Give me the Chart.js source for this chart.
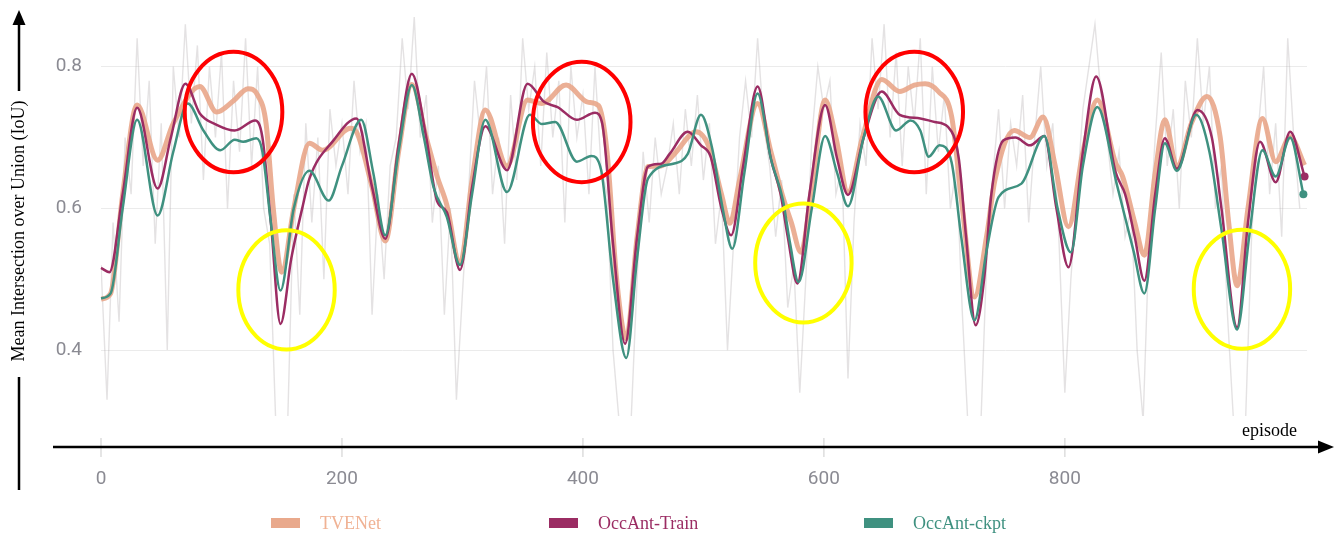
<!DOCTYPE html>
<html>
<head>
<meta charset="utf-8">
<title>Mean IoU per episode</title>
<script src="https://cdn.jsdelivr.net/npm/chart.js@4.4.0/dist/chart.umd.min.js"></script>
<style>
  html, body { margin: 0; padding: 0; background: #fff; }
  #wrap { position: relative; width: 1343px; height: 536px; }
</style>
</head>
<body>
<div id="wrap"><canvas id="chart"></canvas></div>
<script>
// axis ticks
var xTicks = [0, 200, 400, 600, 800];
var yTicks = [0.4, 0.6, 0.8];

// smoothed curves (episode -> IoU)
var tveEp = [0,8,18,30,47,60,82,96,110,122,130,137,143,150,160,173,184,207,212,225,
  236,247,258,270,279,287,298,308,319,337,354,366,386,404,413,420,428,436,445,454,
  465,476,494,505,515,522,530,545,556,566,573,581,590,601,610,620,632,648,663,675,
  684,695,706,715,725,735,742,758,771,782,792,803,815,827,842,848,858,866,875,883,
  893,905,918,929,936,943,952,964,975,987,999];
var tveIoU = [0.472,0.48,0.62,0.746,0.668,0.72,0.772,0.736,0.752,0.769,0.76,0.72,0.6,0.51,0.6,0.692,0.682,0.713,0.708,0.63,
  0.554,0.68,0.775,0.7,0.645,0.605,0.522,0.64,0.739,0.66,0.753,0.748,0.774,0.75,0.745,0.68,0.5,0.416,0.56,0.659,
  0.66,0.677,0.708,0.685,0.62,0.579,0.64,0.748,0.68,0.616,0.58,0.538,0.63,0.753,0.7,0.623,0.7,0.782,0.765,0.774,
  0.776,0.765,0.73,0.6,0.475,0.56,0.64,0.71,0.70,0.729,0.66,0.574,0.68,0.753,0.665,0.645,0.58,0.534,0.65,0.725,
  0.659,0.72,0.758,0.7,0.58,0.491,0.6,0.727,0.666,0.701,0.661];

var trainEp = [0,7,18,30,47,58,70,82,96,111,128,134,141,149,158,167,173,193,212,225,
  236,247,258,270,279,287,298,308,319,337,354,368,379,395,410,416,425,435,445,454,
  465,472,487,498,506,515,523,533,545,556,564,570,578,588,601,611,620,633,648,663,
  680,692,703,712,718,726,733,739,749,759,771,783,793,803,815,826,842,850,858,866,
  875,883,893,910,922,930,943,952,962,975,987,999];
var trainIoU = [0.516,0.51,0.62,0.742,0.628,0.7,0.776,0.734,0.718,0.71,0.724,0.7,0.58,0.437,0.53,0.6,0.642,0.696,0.727,0.63,
  0.557,0.69,0.79,0.7,0.61,0.595,0.513,0.63,0.716,0.654,0.776,0.75,0.743,0.725,0.735,0.72,0.55,0.409,0.56,0.659,
  0.663,0.677,0.708,0.689,0.673,0.6,0.562,0.66,0.772,0.67,0.621,0.56,0.494,0.62,0.746,0.67,0.619,0.7,0.765,0.732,
  0.727,0.722,0.715,0.67,0.56,0.435,0.5,0.62,0.696,0.70,0.689,0.702,0.6,0.517,0.68,0.786,0.652,0.62,0.56,0.498,
  0.62,0.699,0.656,0.739,0.7,0.6,0.432,0.58,0.694,0.637,0.708,0.645];

var ckptEp = [0,8,18,30,47,60,72,85,99,111,118,129,134,141,149,160,173,189,200,216,
  226,236,247,258,268,276,287,298,308,319,337,356,366,377,395,407,415,425,436,445,
  454,475,487,498,507,516,524,534,545,556,566,572,579,590,601,611,620,633,645,660,
  672,680,687,696,706,714,725,735,745,764,783,794,805,815,827,843,857,866,875,883,
  893,909,920,930,943,953,964,975,987,998];
var ckptIoU = [0.473,0.48,0.6,0.725,0.59,0.68,0.748,0.71,0.682,0.697,0.694,0.699,0.68,0.58,0.484,0.6,0.653,0.611,0.66,0.725,
  0.65,0.562,0.68,0.774,0.7,0.63,0.588,0.52,0.62,0.725,0.623,0.732,0.719,0.722,0.666,0.674,0.655,0.5,0.389,0.53,
  0.642,0.663,0.677,0.732,0.687,0.6,0.543,0.65,0.762,0.67,0.612,0.55,0.496,0.6,0.702,0.65,0.603,0.7,0.758,0.71,
  0.724,0.71,0.673,0.689,0.665,0.56,0.442,0.54,0.616,0.635,0.702,0.6,0.538,0.66,0.743,0.635,0.54,0.48,0.6,0.692,
  0.653,0.732,0.68,0.57,0.429,0.56,0.682,0.645,0.70,0.62];

// faint raw readings behind the curves, one every 5 episodes
var rawStep = 5;
var rawIoU = [0.52,0.33,0.58,0.44,0.70,0.62,0.84,0.66,0.78,0.55,
  0.72,0.40,0.80,0.70,0.86,0.72,0.83,0.64,0.80,0.70,
  0.82,0.60,0.78,0.68,0.84,0.66,0.80,0.60,0.55,0.30,
  0.28,0.30,0.62,0.45,0.72,0.58,0.70,0.50,0.74,0.66,
  0.72,0.62,0.78,0.68,0.72,0.45,0.62,0.50,0.66,0.70,
  0.84,0.74,0.87,0.70,0.76,0.58,0.66,0.45,0.60,0.33,
  0.48,0.62,0.78,0.70,0.80,0.62,0.70,0.55,0.76,0.64,
  0.84,0.74,0.80,0.66,0.82,0.70,0.78,0.58,0.80,0.70,
  0.76,0.62,0.80,0.66,0.62,0.40,0.30,0.28,0.30,0.50,
  0.68,0.58,0.70,0.62,0.66,0.72,0.62,0.74,0.66,0.76,
  0.64,0.72,0.55,0.62,0.40,0.55,0.70,0.78,0.70,0.84,
  0.72,0.66,0.56,0.64,0.46,0.52,0.34,0.50,0.70,0.80,
  0.74,0.78,0.62,0.66,0.36,0.58,0.72,0.66,0.84,0.74,
  0.86,0.70,0.82,0.66,0.80,0.72,0.84,0.62,0.80,0.68,
  0.76,0.60,0.66,0.45,0.28,0.30,0.28,0.52,0.64,0.74,
  0.60,0.72,0.66,0.76,0.58,0.70,0.80,0.66,0.72,0.56,
  0.34,0.50,0.62,0.74,0.80,0.86,0.76,0.70,0.62,0.68,
  0.56,0.60,0.40,0.30,0.56,0.70,0.82,0.66,0.74,0.60,
  0.78,0.70,0.84,0.72,0.80,0.60,0.66,0.45,0.30,0.28,
  0.30,0.56,0.70,0.80,0.62,0.72,0.56,0.84,0.70,0.60];

var names = ["TVENet", "OccAnt-Train", "OccAnt-ckpt"];
var colors = ["#e9a98c", "#9b2c63", "#3f9180"];
var textColors = ["#f0b294", "#9b2c63", "#3f9180"];

// highlighted regions: [episode, IoU, half-width (episodes), half-height (IoU), colour]
var marks = [
  [110, 0.736, 40.5, 0.085, "#ff0000"],
  [399, 0.722, 40.5, 0.085, "#ff0000"],
  [675, 0.736, 40.5, 0.085, "#ff0000"],
  [154, 0.485, 40, 0.084, "#ffff00"],
  [583, 0.523, 40, 0.084, "#ffff00"],
  [947, 0.486, 40, 0.084, "#ffff00"]
];

function pts(ep, val) {
  return ep.map(function(e, i) { return { x: e, y: val[i] }; });
}
function endDot(c) {
  return c.dataIndex === c.dataset.data.length - 1 ? 4 : 0;
}
function noPad(s) {
  s.paddingTop = 0; s.paddingBottom = 0; s.paddingLeft = 0; s.paddingRight = 0;
}

var serif = "'Liberation Serif', 'Times New Roman', serif";

var decor = {
  id: "decor",
  afterDraw: function(chart) {
    var ctx = chart.ctx, xs = chart.scales.x, ys = chart.scales.y;
    ctx.save();

    // short tick marks under the plot
    ctx.strokeStyle = "#dddddd";
    ctx.lineWidth = 1.5;
    xTicks.forEach(function(v) {
      var px = xs.getPixelForValue(v);
      ctx.beginPath(); ctx.moveTo(px, 438); ctx.lineTo(px, 457); ctx.stroke();
    });

    // axis arrows
    ctx.strokeStyle = "#000"; ctx.fillStyle = "#000"; ctx.lineWidth = 2.5;
    ctx.beginPath(); ctx.moveTo(53, 447); ctx.lineTo(1321, 447); ctx.stroke();
    ctx.beginPath(); ctx.moveTo(1334, 447); ctx.lineTo(1318, 440.5); ctx.lineTo(1318, 453.5); ctx.closePath(); ctx.fill();
    ctx.beginPath(); ctx.moveTo(19, 490); ctx.lineTo(19, 377); ctx.stroke();
    ctx.beginPath(); ctx.moveTo(19, 91); ctx.lineTo(19, 22); ctx.stroke();
    ctx.beginPath(); ctx.moveTo(19, 10); ctx.lineTo(12.5, 25); ctx.lineTo(25.5, 25); ctx.closePath(); ctx.fill();

    ctx.font = "18px " + serif;
    ctx.textBaseline = "middle";
    ctx.save();
    ctx.translate(19, 231);
    ctx.rotate(-Math.PI / 2);
    ctx.textAlign = "center";
    ctx.fillText("Mean Intersection over Union (IoU)", 0, 0);
    ctx.restore();
    ctx.textAlign = "left";
    ctx.fillText("episode", 1242, 431);

    // legend
    var boxX = [271, 549, 864];
    names.forEach(function(n, i) {
      ctx.fillStyle = colors[i];
      ctx.fillRect(boxX[i], 518, 29, 10);
      ctx.fillStyle = textColors[i];
      ctx.fillText(n, boxX[i] + 49, 524);
    });

    // ellipses
    ctx.lineWidth = 4;
    marks.forEach(function(m) {
      var cx = xs.getPixelForValue(m[0]), cy = ys.getPixelForValue(m[1]);
      var rx = xs.getPixelForValue(m[0] + m[2]) - cx;
      var ry = ys.getPixelForValue(m[1] - m[3]) - cy;
      ctx.strokeStyle = m[4];
      ctx.beginPath();
      ctx.ellipse(cx, cy, rx, ry, 0, 0, Math.PI * 2);
      ctx.stroke();
    });
    ctx.restore();
  }
};

var ctx = document.getElementById("chart").getContext("2d");
var chart = new Chart(ctx, {
  type: "line",
  data: {
    datasets: [
      {
        label: names[2],
        data: pts(ckptEp, ckptIoU),
        borderColor: colors[2],
        backgroundColor: colors[2],
        borderWidth: 2.5,
        pointRadius: endDot,
        pointBorderWidth: 0,
        cubicInterpolationMode: "monotone",
        clip: 8,
        order: 0
      },
      {
        label: names[1],
        data: pts(trainEp, trainIoU),
        borderColor: colors[1],
        backgroundColor: colors[1],
        borderWidth: 2.5,
        pointRadius: endDot,
        pointBorderWidth: 0,
        cubicInterpolationMode: "monotone",
        clip: 8,
        order: 1
      },
      {
        label: names[0],
        data: pts(tveEp, tveIoU),
        borderColor: "rgba(233,166,138,0.9)",
        borderWidth: 5,
        pointRadius: 0,
        cubicInterpolationMode: "monotone",
        order: 2
      },
      {
        label: "raw",
        data: rawIoU.map(function(v, i) { return { x: i * rawStep, y: v }; }),
        borderColor: "rgba(165,160,163,0.3)",
        borderWidth: 1.4,
        pointRadius: 0,
        tension: 0,
        order: 3
      }
    ]
  },
  options: {
    responsive: true,
    maintainAspectRatio: false,
    animation: false,
    layout: { padding: { top: 10, right: 36, left: 0, bottom: 0 } },
    plugins: { legend: { display: false }, tooltip: { enabled: false } },
    scales: {
      x: {
        type: "linear",
        min: 0,
        max: 1001,
        afterBuildTicks: function(s) { s.ticks = xTicks.map(function(v) { return { value: v }; }); },
        afterFit: function(s) { s.height = 120; noPad(s); },
        grid: { display: false },
        border: { display: false },
        ticks: {
          padding: 44,
          color: "#8b8b93",
          font: { family: "Roboto", size: 19 }
        }
      },
      y: {
        min: 0.307,
        max: 0.88,
        afterBuildTicks: function(s) { s.ticks = yTicks.map(function(v) { return { value: v }; }); },
        afterFit: function(s) { s.width = 101; noPad(s); },
        grid: { color: "#ebebeb", drawTicks: false },
        border: { display: false },
        ticks: {
          padding: 19,
          color: "#8b8b93",
          font: { family: "Roboto", size: 19 },
          callback: function(v) { return v.toFixed(1); }
        }
      }
    }
  },
  plugins: [decor]
});
</script>
</body>
</html>
